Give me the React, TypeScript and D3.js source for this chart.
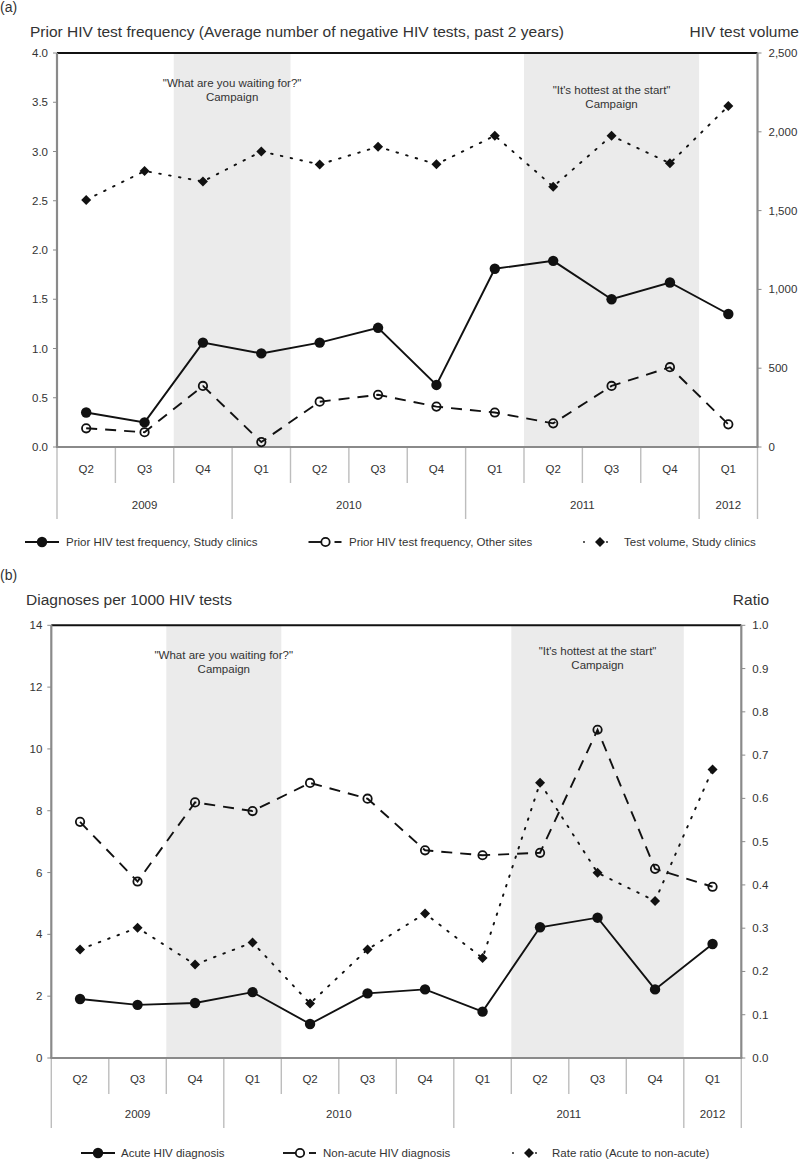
import React from 'react';
import * as d3 from 'd3';

// Shared x-axis categories
const quarters = ['Q2', 'Q3', 'Q4', 'Q1', 'Q2', 'Q3', 'Q4', 'Q1', 'Q2', 'Q3', 'Q4', 'Q1'];
const years = [
  { label: '2009', start: 0, end: 3 },
  { label: '2010', start: 3, end: 7 },
  { label: '2011', start: 7, end: 11 },
  { label: '2012', start: 11, end: 12 },
];
const campaigns = [
  { lines: ['"What are you waiting for?"', 'Campaign'], start: 2, end: 4 },
  { lines: ['"It\'s hottest at the start"', 'Campaign'], start: 8, end: 11 },
];

// Panel (a)
const freqStudy = [0.35, 0.25, 1.06, 0.95, 1.06, 1.21, 0.63, 1.81, 1.89, 1.5, 1.67, 1.35];
const freqOther = [0.19, 0.15, 0.62, 0.05, 0.46, 0.53, 0.41, 0.35, 0.24, 0.62, 0.81, 0.23];
const testVolume = [1568, 1751, 1685, 1875, 1793, 1905, 1794, 1975, 1652, 1975, 1800, 2163];
const leftTicksA = [0, 0.5, 1, 1.5, 2, 2.5, 3, 3.5, 4];
const rightTicksA = [0, 500, 1000, 1500, 2000, 2500];

// Panel (b)
const acuteDx = [1.91, 1.72, 1.78, 2.13, 1.1, 2.09, 2.22, 1.5, 4.23, 4.54, 2.22, 3.69];
const nonAcuteDx = [7.64, 5.71, 8.27, 7.99, 8.9, 8.39, 6.72, 6.56, 6.64, 10.62, 6.12, 5.54];
const rateRatio = [0.251, 0.301, 0.216, 0.267, 0.126, 0.251, 0.334, 0.231, 0.636, 0.428, 0.363, 0.667];
const leftTicksB = [0, 2, 4, 6, 8, 10, 12, 14];
const rightTicksB = [0, 0.1, 0.2, 0.3, 0.4, 0.5, 0.6, 0.7, 0.8, 0.9, 1.0];

const FONT = 'Liberation Sans, Arial, sans-serif';
const TEXT = '#333';
const AXIS = '#8a8a8a';
const SEP = '#bdbdbd';
const SHADE = '#ebebeb';

type Style = 'solid' | 'dashed' | 'dotted';
type Marker = 'filled' | 'open' | 'diamond';

interface Series {
  values: number[];
  axis: 'left' | 'right';
  style: Style;
  marker: Marker;
  label: string;
}

interface LegendItem {
  x: number;
  textX: number;
}

interface PanelProps {
  tag: string;
  tagY: number;
  title: string;
  titleX: number;
  titleY: number;
  rightTitle: string;
  rightTitleX: number;
  left: number;
  right: number;
  top: number;
  bottom: number;
  leftDomain: [number, number];
  rightDomain: [number, number];
  leftTicks: number[];
  rightTicks: number[];
  leftFormat: (v: number) => string;
  rightFormat: (v: number) => string;
  series: Series[];
  campaignY: [number, number];
  quarterY: number;
  quarterSepY: number;
  yearY: number;
  yearSepY: number;
  legendY: number;
  legend: LegendItem[];
}

const dashFor = (s: Style) =>
  s === 'dashed' ? '11,8' : s === 'dotted' ? '1.6,8.4' : undefined;

const MarkerShape: React.FC<{ type: Marker; x: number; y: number }> = ({ type, x, y }) => {
  if (type === 'filled') return <circle cx={x} cy={y} r={5.2} fill="#111" />;
  if (type === 'open')
    return <circle cx={x} cy={y} r={4.2} fill="none" stroke="#111" strokeWidth={1.8} />;
  const s = 5;
  return <path d={`M${x},${y - s}L${x + s},${y}L${x},${y + s}L${x - s},${y}Z`} fill="#111" />;
};

const Panel: React.FC<PanelProps> = (p) => {
  const x = d3.scaleBand<number>().domain(d3.range(quarters.length)).range([p.left, p.right]);
  const bw = x.bandwidth();
  const cx = (i: number) => (x(i) as number) + bw / 2;
  const yL = d3.scaleLinear().domain(p.leftDomain).range([p.bottom, p.top]);
  const yR = d3.scaleLinear().domain(p.rightDomain).range([p.bottom, p.top]);
  const edge = (i: number) => (i >= quarters.length ? p.right : (x(i) as number));

  const yearEdges = Array.from(new Set(years.flatMap((y) => [y.start, y.end])));

  return (
    <g fontFamily={FONT}>
      <text x={0} y={p.tagY} fontSize={14} fill={TEXT}>{p.tag}</text>
      <text x={p.titleX} y={p.titleY} fontSize={15.5} fill={TEXT}>{p.title}</text>
      <text x={p.rightTitleX} y={p.titleY} fontSize={15.5} fill={TEXT} textAnchor="end">{p.rightTitle}</text>

      {/* Campaign shading */}
      {campaigns.map((c, i) => (
        <g key={`camp-${i}`}>
          <rect x={edge(c.start)} y={p.top} width={edge(c.end) - edge(c.start)} height={p.bottom - p.top} fill={SHADE} />
          {c.lines.map((t, j) => (
            <text key={j} x={(edge(c.start) + edge(c.end)) / 2} y={p.campaignY[i] + j * 14} fontSize={11.5} fill={TEXT} textAnchor="middle">
              {t}
            </text>
          ))}
        </g>
      ))}

      {/* Frame */}
      <line x1={p.left} x2={p.right} y1={p.top} y2={p.top} stroke="#111" strokeWidth={2} />
      <line x1={p.left} x2={p.left} y1={p.top} y2={p.bottom} stroke={AXIS} strokeWidth={2.2} />
      <line x1={p.right} x2={p.right} y1={p.top} y2={p.bottom} stroke={AXIS} strokeWidth={2.2} />

      {/* Left axis */}
      {p.leftTicks.map((v) => (
        <g key={`l-${v}`} transform={`translate(${p.left},${yL(v)})`}>
          <line x1={-4} x2={0} stroke={AXIS} />
          <text x={-9} dy="0.35em" fontSize={11.5} fill={TEXT} textAnchor="end">{p.leftFormat(v)}</text>
        </g>
      ))}
      {/* Right axis */}
      {p.rightTicks.map((v) => (
        <g key={`r-${v}`} transform={`translate(${p.right},${yR(v)})`}>
          <line x1={0} x2={4} stroke={AXIS} />
          <text x={11} dy="0.35em" fontSize={11.5} fill={TEXT}>{p.rightFormat(v)}</text>
        </g>
      ))}

      {/* Category axis */}
      {d3.range(quarters.length + 1).map((i) => (
        <line key={`qs-${i}`} x1={edge(i)} x2={edge(i)} y1={p.bottom} y2={yearEdges.includes(i) ? p.yearSepY : p.quarterSepY} stroke={SEP} strokeWidth={1.4} />
      ))}
      {quarters.map((q, i) => (
        <text key={`q-${i}`} x={cx(i)} y={p.quarterY} dy="0.35em" fontSize={11.5} fill={TEXT} textAnchor="middle">{q}</text>
      ))}
      {years.map((yr) => (
        <text key={yr.label} x={(edge(yr.start) + edge(yr.end)) / 2} y={p.yearY} dy="0.35em" fontSize={11.5} fill={TEXT} textAnchor="middle">{yr.label}</text>
      ))}
      <line x1={p.left - 1} x2={p.right + 1} y1={p.bottom} y2={p.bottom} stroke={AXIS} strokeWidth={2.2} />

      {/* Series */}
      {p.series.map((s, si) => {
        const y = s.axis === 'left' ? yL : yR;
        const line = d3.line<number>().x((_, i) => cx(i)).y((d) => y(d));
        return (
          <g key={`s-${si}`}>
            <path d={line(s.values) || ''} fill="none" stroke="#111" strokeWidth={s.style === 'dotted' ? 1.9 : 1.9} strokeDasharray={dashFor(s.style)} strokeLinecap={s.style === 'dotted' ? 'round' : 'butt'} />
            {s.values.map((v, i) => (
              <MarkerShape key={i} type={s.marker} x={cx(i)} y={y(v)} />
            ))}
          </g>
        );
      })}

      {/* Legend */}
      {p.series.map((s, si) => {
        const l = p.legend[si];
        const ly = p.legendY;
        return (
          <g key={`lg-${si}`}>
            {s.style === 'solid' && <line x1={l.x - 17} x2={l.x + 17} y1={ly} y2={ly} stroke="#111" strokeWidth={1.9} />}
            {s.style === 'dashed' && (
              <>
                <line x1={l.x - 17} x2={l.x} y1={ly} y2={ly} stroke="#111" strokeWidth={1.9} />
                <line x1={l.x + 9} x2={l.x + 16} y1={ly} y2={ly} stroke="#111" strokeWidth={1.9} />
              </>
            )}
            {s.style === 'dotted' && (
              <>
                <circle cx={l.x - 16} cy={ly} r={0.9} fill="#111" />
                <circle cx={l.x + 7} cy={ly} r={0.9} fill="#111" />
              </>
            )}
            {s.marker === 'open' ? (
              <circle cx={l.x} cy={ly} r={4.2} fill="#fff" stroke="#111" strokeWidth={1.8} />
            ) : (
              <MarkerShape type={s.marker} x={l.x} y={ly} />
            )}
            <text x={l.textX} y={ly} dy="0.35em" fontSize={11.5} fill={TEXT}>{s.label}</text>
          </g>
        );
      })}
    </g>
  );
};

const fmtDec1 = d3.format('.1f');
const fmtComma = d3.format(',');
const fmtInt = d3.format('d');

const App: React.FC = () => (
  <svg width={800} height={1159} style={{ position: 'absolute', left: 0, top: 0, background: '#fff' }}>
    <Panel
      tag="(a)"
      tagY={12}
      title="Prior HIV test frequency (Average number of negative HIV tests, past 2 years)"
      titleX={30}
      titleY={37}
      rightTitle="HIV test volume"
      rightTitleX={799}
      left={57}
      right={757.5}
      top={53}
      bottom={447}
      leftDomain={[0, 4]}
      rightDomain={[0, 2500]}
      leftTicks={leftTicksA}
      rightTicks={rightTicksA}
      leftFormat={fmtDec1}
      rightFormat={fmtComma}
      series={[
        { values: freqStudy, axis: 'left', style: 'solid', marker: 'filled', label: 'Prior HIV test frequency, Study clinics' },
        { values: freqOther, axis: 'left', style: 'dashed', marker: 'open', label: 'Prior HIV test frequency, Other sites' },
        { values: testVolume, axis: 'right', style: 'dotted', marker: 'diamond', label: 'Test volume, Study clinics' },
      ]}
      campaignY={[87, 94]}
      quarterY={469}
      quarterSepY={483}
      yearY={505}
      yearSepY={519}
      legendY={542}
      legend={[
        { x: 42, textX: 66 },
        { x: 325.5, textX: 349 },
        { x: 600, textX: 624 },
      ]}
    />
    <Panel
      tag="(b)"
      tagY={580}
      title="Diagnoses per 1000 HIV tests"
      titleX={26}
      titleY={605}
      rightTitle="Ratio"
      rightTitleX={769}
      left={51.3}
      right={741.3}
      top={625.3}
      bottom={1058}
      leftDomain={[0, 14]}
      rightDomain={[0, 1]}
      leftTicks={leftTicksB}
      rightTicks={rightTicksB}
      leftFormat={fmtInt}
      rightFormat={fmtDec1}
      series={[
        { values: acuteDx, axis: 'left', style: 'solid', marker: 'filled', label: 'Acute HIV diagnosis' },
        { values: nonAcuteDx, axis: 'left', style: 'dashed', marker: 'open', label: 'Non-acute HIV diagnosis' },
        { values: rateRatio, axis: 'right', style: 'dotted', marker: 'diamond', label: 'Rate ratio (Acute to non-acute)' },
      ]}
      campaignY={[659, 655]}
      quarterY={1079}
      quarterSepY={1094}
      yearY={1114}
      yearSepY={1128}
      legendY={1153}
      legend={[
        { x: 98, textX: 121 },
        { x: 300, textX: 323 },
        { x: 529, textX: 552 },
      ]}
    />
  </svg>
);

export default App;
